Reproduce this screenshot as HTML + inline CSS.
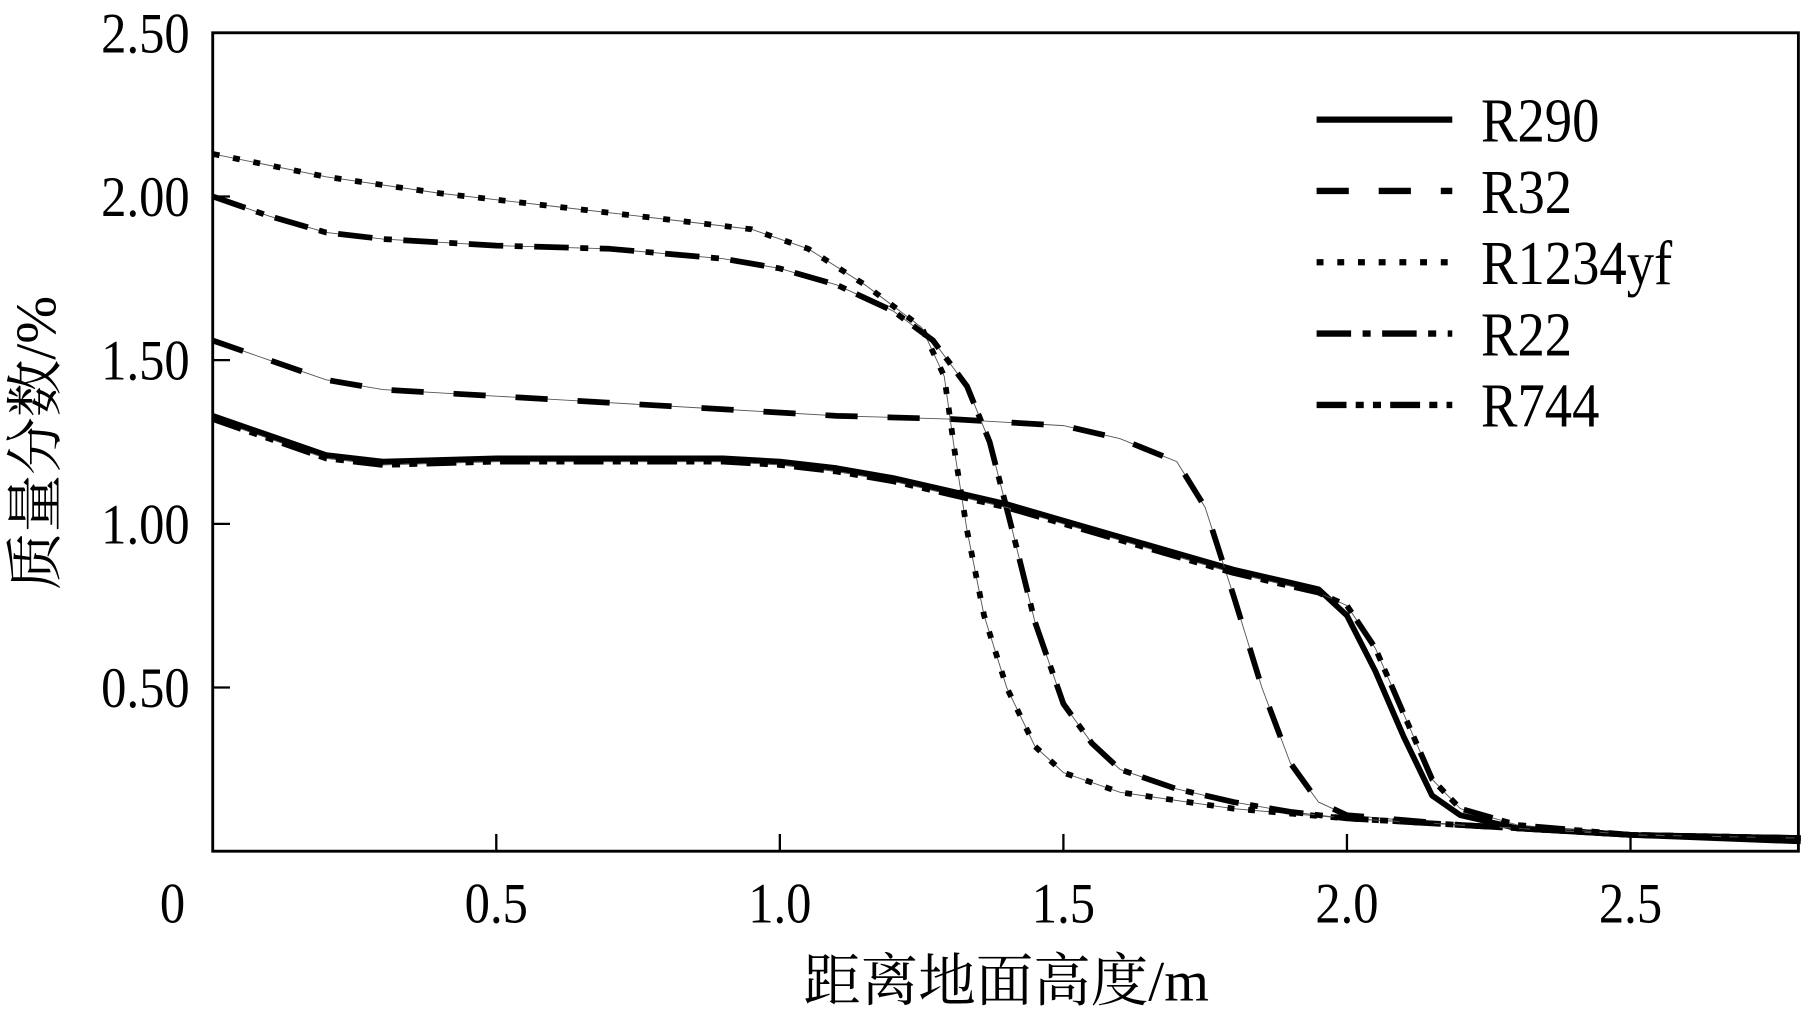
<!DOCTYPE html>
<html><head><meta charset="utf-8"><style>
html,body{margin:0;padding:0;background:#fff;}
svg{display:block;}
text{font-family:"Liberation Serif","Noto Serif CJK SC",serif;fill:#000;}
</style></head><body>
<svg id="chart" width="1803" height="1018" viewBox="0 0 1568 885" preserveAspectRatio="none" xmlns="http://www.w3.org/2000/svg">
<g id="axes"></g>
<g id="series"></g>
<g id="legend"></g>
</svg>
<script>
const xTicks=[0,0.5,1.0,1.5,2.0,2.5];
const xTickLabels=["0","0.5","1.0","1.5","2.0","2.5"];
const yTicks=[0.5,1.0,1.5,2.0,2.5];
const yTickLabels=["0.50","1.00","1.50","2.00","2.50"];
const seriesNames=["R290","R32","R1234yf","R22","R744"];
const r290X=[0,0.1,0.2,0.3,0.5,0.9,1.0,1.1,1.2,1.3,1.4,1.5,1.6,1.7,1.8,1.9,1.95,2.0,2.05,2.1,2.15,2.2,2.3,2.5,2.8];
const r290Y=[1.33,1.27,1.21,1.19,1.2,1.2,1.19,1.17,1.14,1.1,1.06,1.01,0.96,0.91,0.86,0.82,0.8,0.72,0.55,0.35,0.17,0.11,0.07,0.05,0.03];
const r744X=[0,0.1,0.2,0.3,0.5,0.9,1.0,1.1,1.2,1.3,1.4,1.5,1.6,1.7,1.8,1.9,1.95,2.0,2.05,2.1,2.15,2.2,2.3,2.5,2.8];
const r744Y=[1.32,1.26,1.2,1.18,1.19,1.19,1.18,1.16,1.13,1.09,1.05,1.0,0.95,0.9,0.85,0.81,0.79,0.75,0.62,0.42,0.22,0.13,0.08,0.05,0.04];
const r32X=[0,0.1,0.2,0.3,0.5,0.7,0.9,1.1,1.3,1.5,1.6,1.7,1.75,1.8,1.85,1.9,1.95,2.0,2.2,2.5,2.8];
const r32Y=[1.56,1.5,1.44,1.41,1.39,1.37,1.35,1.33,1.32,1.3,1.26,1.19,1.05,0.78,0.5,0.27,0.15,0.11,0.08,0.05,0.04];
const r1234X=[0,0.2,0.4,0.6,0.8,0.95,1.05,1.15,1.25,1.29,1.31,1.33,1.36,1.4,1.45,1.5,1.6,1.8,2.0,2.2,2.5,2.8];
const r1234Y=[2.13,2.06,2.01,1.97,1.93,1.9,1.84,1.73,1.6,1.45,1.2,0.98,0.72,0.5,0.32,0.24,0.18,0.13,0.1,0.08,0.05,0.04];
const r22X=[0,0.1,0.2,0.3,0.5,0.7,0.9,1.0,1.1,1.2,1.27,1.33,1.37,1.41,1.45,1.5,1.55,1.6,1.7,1.8,1.9,2.0,2.2,2.5,2.8];
const r22Y=[2.0,1.94,1.89,1.87,1.85,1.84,1.81,1.78,1.73,1.65,1.56,1.42,1.25,0.98,0.7,0.45,0.33,0.25,0.19,0.15,0.12,0.1,0.08,0.05,0.04];

const NS="http://www.w3.org/2000/svg";
const L=185,R=1564,T=28.5,B=740;
function xs(v){return L+v*(246.6/0.5);}
function ys(v){return B-v*(142.3/0.5);}
function mk(tag,attrs,parent){const e=document.createElementNS(NS,tag);for(const k in attrs)e.setAttribute(k,attrs[k]);parent.appendChild(e);return e;}
const axes=document.getElementById('axes');
const frame=mk('rect',{x:L,y:T,width:R-L,height:B-T,fill:'none',stroke:'#000','stroke-width':2.5},axes);


xTicks.forEach((v,i)=>{
  if(v>0){const t=mk('line',{x1:xs(v),x2:xs(v),y1:B,y2:B-15,stroke:'#000','stroke-width':2},axes);
  
  }
  const px=v===0?xs(v)-35:xs(v);
  const lb=mk('text',{x:px,y:802,'font-size':50,'text-anchor':'middle',transform:`translate(${px},0) scale(0.88,1) translate(${-px},0)`},axes);
  lb.textContent=xTickLabels[i];
  
  
});
yTicks.forEach((v,i)=>{
  const t=mk('line',{x1:L,x2:L+15,y1:ys(v),y2:ys(v),stroke:'#000','stroke-width':2},axes);
  
  
  const lb=mk('text',{x:165,y:ys(v)+17,'font-size':50,'text-anchor':'end',transform:`translate(165,0) scale(0.88,1) translate(-165,0)`},axes);
  lb.textContent=yTickLabels[i];
  
  
});
const xt=mk('text',{x:875,y:870,'font-size':50,'text-anchor':'middle'},axes);
xt.textContent='距离地面高度/m';


const yt=mk('text',{x:0,y:0,'font-size':50,'text-anchor':'middle',transform:'translate(48,385) rotate(-90)'},axes);
yt.textContent='质量分数/%';



const styles=[
 {w:5,d:'none'},
 {w:5,d:'28 26'},
 {w:5,d:'6 12'},
 {w:5,d:'30 10 7 10'},
 {w:5,d:'26 8 7 8 7 8'}
];
const data=[[r290X,r290Y],[r32X,r32Y],[r1234X,r1234Y],[r22X,r22Y],[r744X,r744Y]];
const sg=document.getElementById('series');
function pathD(X,Y){return X.map((x,i)=>(i?'L':'M')+xs(x).toFixed(1)+','+ys(Y[i]).toFixed(1)).join(' ');}
data.forEach((d,i)=>{
  const dd=pathD(d[0],d[1]);
  const thin=mk('path',{d:dd,fill:'none',stroke:'#555','stroke-width':0.8},sg);
  
  
  const p=mk('path',{d:dd,fill:'none',stroke:'#000','stroke-width':styles[i].w,'stroke-dasharray':styles[i].d,'stroke-linejoin':'round'},sg);
  
  
});
const lg=document.getElementById('legend');
seriesNames.forEach((n,i)=>{
  const y=104+i*62;
  const l=mk('line',{x1:1145,x2:1263,y1:y,y2:y,stroke:'#000','stroke-width':5.5,'stroke-dasharray':styles[i].d==='none'?'none':styles[i].d},lg);
  
  
  const t=mk('text',{x:1288,y:y+19,'font-size':54,transform:'translate(1288,0) scale(0.88,1) translate(-1288,0)'},lg);
  t.textContent=n;
  
  
});
</script>
</body></html>
